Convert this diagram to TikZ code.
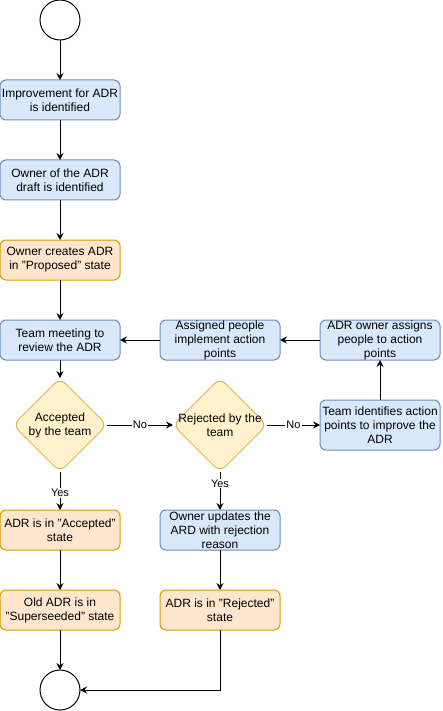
\documentclass[tikz,border=0pt]{standalone}
\usepackage{fontspec}
\setmainfont{Liberation Sans}
\usepackage{tikz}
\usetikzlibrary{shapes.geometric, arrows.meta, positioning, calc}
\definecolor{adrblue}{HTML}{6C8EBF}
\definecolor{adrlightblue}{HTML}{DAE8FC}
\definecolor{adrorange}{HTML}{D79B00}
\definecolor{adrlightorange}{HTML}{FFE6CC}
\definecolor{adryellow}{HTML}{D6B656}
\definecolor{adrlightyellow}{HTML}{FFF2CC}

\begin{document}
\begin{tikzpicture}[x=1pt, y=-1pt, node distance=40pt,
  blk/.style={rectangle, rounded corners=6pt, draw=adrblue, fill=adrlightblue, line width=1pt, minimum width=120pt, minimum height=40pt, inner sep=0pt, outer sep=0pt, align=center, font=\fontsize{12}{14}\selectfont},
  ablk/.style={blk, draw=adrorange, fill=adrlightorange},
  dec/.style={diamond, rounded corners=8pt, draw=adryellow, fill=adrlightyellow, line width=1pt, minimum width=94pt, minimum height=94pt, inner sep=0pt, outer sep=0pt},
  dectext/.style={align=center, inner sep=0pt, font=\fontsize{12}{14}\selectfont},
  circ/.style={circle, draw=black, fill=white, line width=1pt, minimum size=40pt, inner sep=0pt, outer sep=0pt},
  lbl/.style={fill=white, inner sep=1pt, font=\fontsize{11}{13}\selectfont},
  arr/.style={-{Stealth[length=7pt, width=7pt, inset=2.5pt]}, line width=1pt}
]
\useasboundingbox (0,0) rectangle (442,711);
% main column
\node[circ] (start) at (60,20) {};
\node[blk, below=of start] (ident) {Improvement for ADR\\is identified};
\node[blk, below=of ident] (owner) {Owner of the ADR\\draft is identified};
\node[ablk, below=of owner] (propose) {Owner creates ADR\\in "Proposed" state};
\node[blk, below=of propose] (meet) {Team meeting to\\review the ADR};
\node[blk, right=of meet] (impl) {Assigned people\\implement action\\points};
\node[blk, right=of impl] (assign) {ADR owner assigns\\people to action\\points};
% decisions
\node[dec, below=18pt of meet, label={[dectext]center:Accepted\\by the team}] (acc) {};
\node[dec, right=66pt of acc, label={[dectext]center:Rejected by the\\team}] (rej) {};
\node[blk, right=53pt of rej, minimum height=50pt] (fix) {Team identifies action\\points to improve the\\ADR};
% results
\node[ablk, below=38pt of acc] (accepted) {ADR is in "Accepted"\\state};
\node[ablk, below=of accepted] (super) {Old ADR is in\\"Superseeded" state};
\node[circ, below=of super] (stop) {};
\node[blk, below=38pt of rej] (upd) {Owner updates the\\ARD with rejection\\reason};
\node[ablk, below=of upd] (rejected) {ADR is in "Rejected"\\state};

\draw[arr] (start) -- (ident);
\draw[arr] (ident) -- (owner);
\draw[arr] (owner) -- (propose);
\draw[arr] (propose) -- (meet);
\draw[arr] (meet) -- (acc);
\draw[arr] (acc) -- node[lbl] {No} (rej);
\draw[arr] (rej) -- node[lbl] {No} (fix);
\draw[arr] (fix) -- (assign);
\draw[arr] (assign) -- (impl);
\draw[arr] (impl) -- (meet);
\draw[arr] (acc) -- node[lbl, pos=0.55] {Yes} (accepted);
\draw[arr] (rej) -- node[lbl, pos=0.3] {Yes} (upd);
\draw[arr] (accepted) -- (super);
\draw[arr] (super) -- (stop);
\draw[arr] (upd) -- (rejected);
\draw[arr] (rejected) |- (stop);
\end{tikzpicture}
\end{document}
